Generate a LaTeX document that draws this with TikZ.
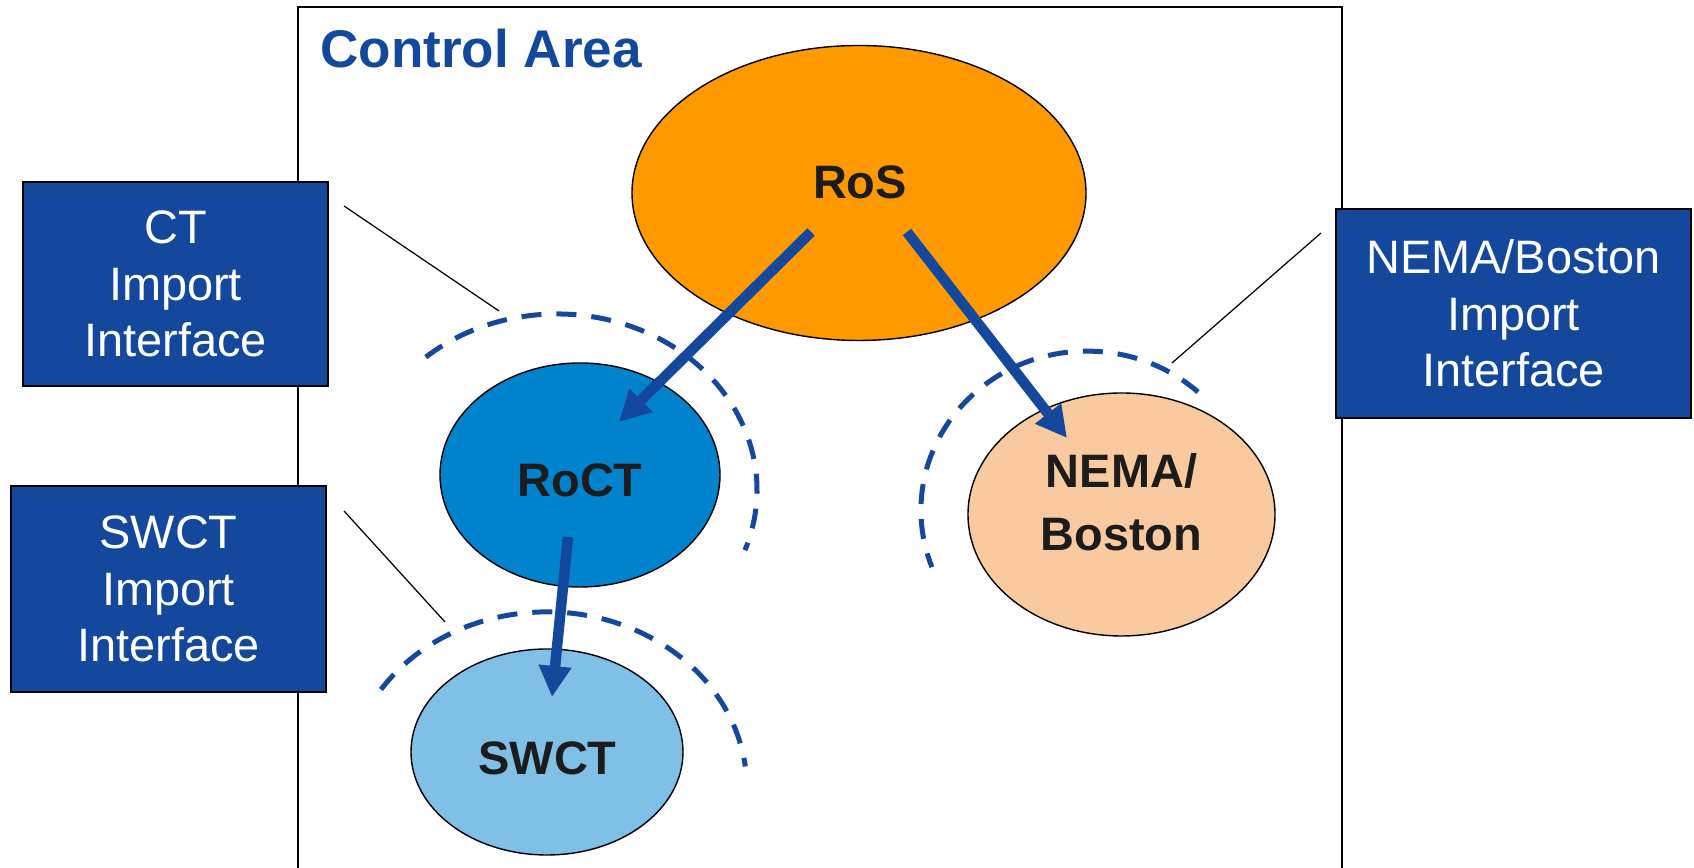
\documentclass[tikz,border=0pt]{standalone}
\usepackage{fontspec}
\setmainfont{Liberation Sans}
\usepackage{xcolor}
\usetikzlibrary{arrows.meta,shapes.geometric}
\definecolor{ctrlblue}{RGB}{20,72,156}
\definecolor{rosorange}{RGB}{255,153,0}
\definecolor{roctblue}{RGB}{0,130,204}
\definecolor{swctblue}{RGB}{128,192,230}
\definecolor{nemapeach}{RGB}{249,201,159}
\definecolor{labeldark}{RGB}{28,28,28}

\begin{document}
\begin{tikzpicture}[
  area/.style={ellipse, draw=black, line width=0.8pt, inner sep=0pt},
  arealabel/.style={font=\fontsize{26.7}{35.9}\selectfont\bfseries,
    text=labeldark, align=center, inner sep=0pt},
  ifbox/.style={draw=black, line width=0.8pt, fill=ctrlblue, text=white,
    align=center, font=\fontsize{26.7}{32.2}\selectfont},
  flow/.style={-{Triangle[length=0.62cm,width=0.62cm]}, line width=0.21cm, ctrlblue},
  boundary/.style={dash pattern=on 0.4cm off 0.3cm, line width=0.1cm, ctrlblue},
  pointer/.style={line width=0.7pt, black},
]
\useasboundingbox (0,0) rectangle (33.88,17.36);

% Control area (open at the bottom)
\draw[line width=1.1pt] (5.96,0) |- (26.84,17.22) -- (26.84,0);
\node[anchor=base west, inner sep=0pt, text=ctrlblue,
  font=\fontsize{30.2}{36}\selectfont\bfseries] (title) at (6.4,16.0) {Control Area};

% Areas
\node[area, fill=rosorange, minimum width=9.08cm, minimum height=5.9cm] (ros) at (17.18,13.5) {};
\node[area, fill=roctblue, minimum width=5.6cm, minimum height=4.48cm] (roct) at (11.6,7.86) {};
\node[area, fill=swctblue, minimum width=5.44cm, minimum height=4.12cm] (swct) at (10.94,2.32) {};
\node[area, fill=nemapeach, minimum width=6.14cm, minimum height=4.86cm] (nema) at (22.43,7.07) {};

\node[arealabel, anchor=base] (ros-text)  at (17.2,13.38) {RoS};
\node[arealabel, anchor=base] (roct-text) at (11.6,7.42) {RoCT};
\node[arealabel, anchor=base] (swct-text) at (10.95,1.86) {SWCT};
\node[arealabel] (nema-text) at (22.43,7.31) {NEMA/\\Boston};

% Import interface boundaries
\draw[boundary] (8.516,10.217) arc[start angle=131, end angle=-20, x radius=4cm, y radius=3.52cm];
\draw[boundary] (7.62,3.57) arc[start angle=146, end angle=7, x radius=4cm, y radius=3.52cm];
\draw[boundary] (23.96,9.52) arc[start angle=48, end angle=201, x radius=3.32cm, y radius=3.18cm];

% Flows
\coordinate (ros-out1) at (16.22,12.72);
\coordinate (ros-out2) at (18.14,12.72);
\coordinate (roct-in)  at (12.38,8.92);
\coordinate (nema-in)  at (21.34,8.6);
\coordinate (roct-out) at (11.36,6.62);
\coordinate (swct-in)  at (11.04,3.42);
\draw[flow] (ros-out1) -- (roct-in);
\draw[flow] (ros-out2) -- (nema-in);
\draw[flow] (roct-out) -- (swct-in);

% Interface boxes
\node[ifbox, minimum width=6.1cm, minimum height=4.08cm] (ct-if) at (3.51,11.68) {CT\\Import\\Interface};
\node[ifbox, minimum width=6.3cm, minimum height=4.12cm] (swct-if) at (3.37,5.58) {SWCT\\Import\\Interface};
\node[ifbox, minimum width=7.1cm, minimum height=4.18cm] (nema-if) at (30.27,11.09) {NEMA/Boston\\Import\\Interface};

% Pointers
\coordinate (ct-a)   at (6.88,13.24);
\coordinate (ct-b)   at (9.98,11.14);
\coordinate (swct-a) at (6.88,7.14);
\coordinate (swct-b) at (8.9,4.92);
\coordinate (nema-a) at (26.42,12.7);
\coordinate (nema-b) at (23.44,10.1);
\draw[pointer] (ct-a) -- (ct-b);
\draw[pointer] (swct-a) -- (swct-b);
\draw[pointer] (nema-a) -- (nema-b);
\end{tikzpicture}
\end{document}
